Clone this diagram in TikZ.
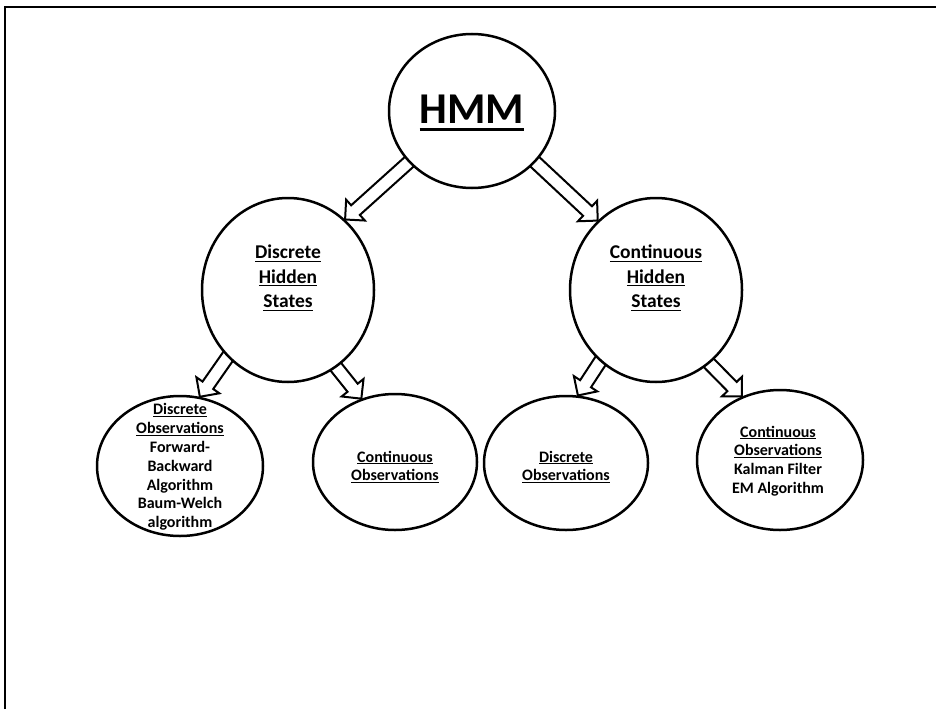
\documentclass[tikz,border=0pt]{standalone}
\usepackage{fontspec}
\setmainfont{Carlito}
\usetikzlibrary{shapes.geometric,calc,backgrounds}

% underline with a rule that scales with the font size
\newcommand\undl[1]{\setbox0=\hbox{#1}\rlap{\copy0}\rule[-0.15em]{\wd0}{0.065em}}

% hollow block arrow from a tail point to a tip point
\newcommand\blockarrow[2]{%
  \coordinate (bt) at (#1);
  \coordinate (bp) at (#2);
  \coordinate (bc) at ($(bp)!14pt!(bt)$);
  \fill[white] ($(bt)!6.5pt!90:(bp)$) -- ($(bc)!6.5pt!-90:(bt)$) -- ($(bc)!14pt!-90:(bt)$) -- (bp)
    -- ($(bc)!14pt!90:(bt)$) -- ($(bc)!6.5pt!90:(bt)$) -- ($(bt)!6.5pt!-90:(bp)$) -- cycle;
  \draw[arrowline] ($(bt)!6.5pt!90:(bp)$) -- ($(bc)!6.5pt!-90:(bt)$) -- ($(bc)!14pt!-90:(bt)$) -- (bp)
    -- ($(bc)!14pt!90:(bt)$) -- ($(bc)!6.5pt!90:(bt)$) -- ($(bt)!6.5pt!-90:(bp)$);
}

\tikzset{
  bubble/.style={ellipse, draw, fill=white, line width=2.5pt, inner sep=0pt},
  arrowline/.style={line width=2pt, line join=miter},
  bigtext/.style={font=\fontsize{44}{50}\selectfont\bfseries},
  midtext/.style={align=center, font=\fontsize{19.5}{24.5}\selectfont\bfseries},
  smalltext/.style={align=center, font=\fontsize{16}{18.8}\selectfont\bfseries},
}

\begin{document}
\begin{tikzpicture}[x=1pt, y=-1pt]
\useasboundingbox (0,0) rectangle (936,709);

% open frame: left and top edges only
\draw[line width=2pt] (5,709) -- (5,7) -- (936,7);

% ellipses
\node[bubble, minimum width=166pt, minimum height=154pt] (hmm) at (472,111) {};
\node[bubble, minimum width=172pt, minimum height=184pt] (dhs) at (288,290) {};
\node[bubble, minimum width=172pt, minimum height=184pt] (chs) at (656,290) {};
\node[bubble, minimum width=166pt, minimum height=140pt] (dobs1) at (180,466) {};
\node[bubble, minimum width=164pt, minimum height=136pt] (cobs1) at (395,462) {};
\node[bubble, minimum width=164pt, minimum height=134pt] (dobs2) at (566,463) {};
\node[bubble, minimum width=166pt, minimum height=140pt] (cobs2) at (780,460) {};

% block arrows, kept behind the ellipses
\begin{scope}[on background layer]
  \blockarrow{$(hmm.219)!-8pt!(dhs.51)$}{dhs.51}
  \blockarrow{$(hmm.321)!-8pt!(chs.130)$}{chs.130}
  \blockarrow{$(dhs.228)!-8pt!(dobs1.74)$}{dobs1.74}
  \blockarrow{$(dhs.302)!-8pt!(cobs1.118)$}{cobs1.118}
  \blockarrow{$(chs.232)!-8pt!(dobs2.80)$}{dobs2.80}
  \blockarrow{$(chs.306)!-8pt!(cobs2.121)$}{cobs2.121}
\end{scope}

% labels
\node[bigtext] (hmmlabel) at (472,113) {\undl{HMM}};
\node[midtext] (dhslabel) at (288,278) {\undl{Discrete}\\\undl{Hidden}\\\undl{States}};
\node[midtext] (chslabel) at (656,278) {\undl{Continuous}\\\undl{Hidden}\\\undl{States}};
\node[smalltext] (dobs1label) at (180,467) {\undl{Discrete}\\\undl{Observations}\\Forward-\\Backward\\Algorithm\\Baum-Welch\\algorithm};
\node[smalltext] (cobs1label) at (395,467) {\undl{Continuous}\\\undl{Observations}};
\node[smalltext] (dobs2label) at (566,467) {\undl{Discrete}\\\undl{Observations}};
\node[smalltext] (cobs2label) at (778,461) {\undl{Continuous}\\\undl{Observations}\\Kalman Filter\\EM Algorithm};
\end{tikzpicture}
\end{document}
